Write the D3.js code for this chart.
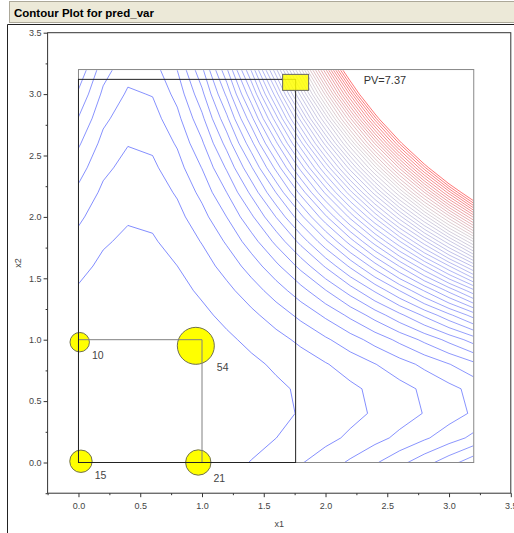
<!DOCTYPE html>
<html><head><meta charset="utf-8">
<script src="https://cdn.jsdelivr.net/npm/d3@7"></script>
<style>
html,body{margin:0;padding:0;background:#fff;}
svg{display:block;}
text{font-family:"Liberation Sans",Arial,sans-serif;}
</style></head><body>
<svg id="chart" width="514" height="533"></svg>
<script>
// ---------- data ----------
const chartTitle = "Contour Plot for pred_var";
const xLabel = "x1";
const yLabel = "x2";
const majorTicks = [0, 0.5, 1, 1.5, 2, 2.5, 3, 3.5];
const minorTicks = [-0.25, 0.25, 0.75, 1.25, 1.75, 2.25, 2.75, 3.25];
const axisDomain = [-0.25, 3.5];

// grid on which pred_var is evaluated
const gridX1 = [0, 0.2, 0.4, 0.6, 0.8, 1.0, 1.2, 1.4, 1.6, 1.8, 2.0, 2.2, 2.4, 2.6, 2.8, 3.0, 3.2];
const gridX2 = [0, 0.2, 0.4, 0.6, 0.8, 1.0, 1.2, 1.4, 1.6, 1.8, 2.0, 2.2, 2.4, 2.6, 2.8, 3.0, 3.2];
// pred_var values, one row per x2 (bottom to top), one column per x1
const pvGrid = [
  [1.000,0.660,0.484,0.472,0.625,0.943,1.425,2.072,2.883,3.858,4.998,6.302,7.771,9.405,11.203,13.165,15.292],
  [0.670,0.442,0.326,0.323,0.432,0.653,0.987,1.433,1.992,2.663,3.446,4.342,5.350,6.471,7.704,9.049,10.507],
  [0.489,0.322,0.241,0.248,0.343,0.524,0.793,1.149,1.592,2.123,2.740,3.445,4.237,5.117,6.083,7.137,8.278],
  [0.456,0.298,0.229,0.249,0.358,0.556,0.842,1.218,1.683,2.237,2.880,3.611,4.432,5.342,6.341,7.428,8.605],
  [0.571,0.371,0.289,0.324,0.477,0.748,1.136,1.642,2.265,3.006,3.865,4.841,5.935,7.147,8.476,9.922,11.487],
  [0.835,0.542,0.421,0.474,0.701,1.100,1.673,2.418,3.337,4.430,5.695,7.134,8.745,10.530,12.489,14.620,16.925],
  [1.247,0.809,0.627,0.700,1.029,1.613,2.453,3.549,4.901,6.508,8.371,10.490,12.864,15.494,18.380,21.521,24.918],
  [1.808,1.173,0.904,1.000,1.461,2.287,3.478,5.034,6.955,9.241,11.893,14.909,18.290,22.037,26.148,30.625,35.467],
  [2.517,1.635,1.254,1.375,1.997,3.121,4.746,6.872,9.500,12.629,16.260,20.391,25.024,30.159,35.795,41.932,48.571],
  [3.374,2.193,1.677,1.825,2.638,4.116,6.258,9.064,12.536,16.672,21.472,26.937,33.067,39.861,47.320,55.443,64.231],
  [4.380,2.849,2.172,2.350,3.383,5.271,8.013,11.610,16.062,21.369,27.530,34.546,42.417,51.142,60.722,71.157,82.447],
  [5.534,3.601,2.740,2.951,4.233,6.587,10.013,14.510,20.080,26.721,34.434,43.218,53.075,64.003,76.003,89.074,103.218],
  [6.837,4.451,3.380,3.626,5.187,8.063,12.256,17.764,24.588,32.728,42.183,52.954,65.040,78.443,93.161,109.195,126.545],
  [8.288,5.397,4.093,4.375,6.245,9.700,14.743,21.371,29.587,39.389,50.777,63.752,78.314,94.462,112.197,131.519,152.427],
  [9.887,6.441,4.878,5.201,7.407,11.498,17.473,25.333,35.076,46.705,60.217,75.614,92.896,112.061,133.111,156.046,180.864],
  [11.635,7.581,5.736,6.100,8.674,13.456,20.447,29.648,41.057,54.676,70.503,88.540,108.785,131.240,155.903,182.776,211.858],
  [13.531,8.819,6.667,7.075,10.045,15.575,23.665,34.316,47.528,63.301,81.634,102.528,125.982,151.997,180.573,211.710,245.407]
];
const levelMin = 2, levelMax = 96, levelStep = 2;

// design points (marker centres as drawn) and their responses
const ptX1 = [0.02, 0.97, 0.01, 0.95];
const ptX2 = [0.01, 0.00, 0.98, 0.95];
const ptResp = [15, 21, 10, 54];
const designBox = [0, 1];          // experimental region square
const regionMax = 3.2;             // contour region upper bound
const cursor = {x1: 1.758, x2: 3.12, pv: 7.37};

// ---------- drawing ----------
const svg = d3.select("#chart");

// title bar & frame
svg.append("rect").attr("x", 9.5).attr("y", 1.5).attr("width", 520).attr("height", 21)
  .attr("fill", "#ece9d8").attr("stroke", "#aca899");
svg.append("text").attr("x", 14).attr("y", 17).attr("font-weight", "bold")
  .attr("font-size", "11.5px").attr("fill", "#000").text(chartTitle);
svg.append("path").attr("d", "M7.5,540V24.5H520").attr("fill", "none").attr("stroke", "#222");

const x = d3.scaleLinear().domain(axisDomain).range([47.6, 510.8]);
const y = d3.scaleLinear().domain(axisDomain).range([493.2, 32.7]);

// contours
const nx = gridX1.length, ny = gridX2.length;
const step = gridX1[1] - gridX1[0];
const levels = d3.range(levelMin, levelMax + levelStep / 2, levelStep);
const contours = d3.contours().size([nx, ny]).thresholds(levels)(pvGrid.flat());
const proj = d3.geoTransform({
  point(px, py) { this.stream.point(x(gridX1[0] + (px - 0.5) * step), y(gridX2[0] + (py - 0.5) * step)); }
});
const path = d3.geoPath(proj);
const color = d3.scaleLinear().domain([levelMin, 40, 66, levelMax])
  .range(["#4455ff", "#8c94f0", "#c8bcc4", "#ff3434"]).interpolate(d3.interpolateRgb);

svg.append("clipPath").attr("id", "clipRegion").append("rect")
  .attr("x", x(0) + 0.6).attr("y", y(regionMax) + 0.6)
  .attr("width", x(regionMax) - x(0) - 1.2).attr("height", y(0) - y(regionMax) - 1.2);

svg.append("g").attr("clip-path", "url(#clipRegion)")
  .selectAll("path").data(contours).join("path")
  .attr("d", path).attr("fill", "none")
  .attr("stroke", d => color(d.value)).attr("stroke-width", 0.85).attr("stroke-opacity", 0.8);

// region border
svg.append("rect").attr("x", x(0)).attr("y", y(regionMax))
  .attr("width", x(regionMax) - x(0)).attr("height", y(0) - y(regionMax))
  .attr("fill", "none").attr("stroke", "#888");

// design points
const r = d3.scaleSqrt().domain([10, 54]).range([9.7, 18.5]);
const pts = ptX1.map((v, i) => ({x1: v, x2: ptX2[i], resp: ptResp[i]}));
svg.append("g").selectAll("circle").data(pts).join("circle")
  .attr("cx", d => x(d.x1)).attr("cy", d => y(d.x2)).attr("r", d => r(d.resp))
  .attr("fill", "#ffff00").attr("stroke", "#707050");

// design square
svg.append("path")
  .attr("d", `M${x(designBox[0])},${y(designBox[1])}H${x(designBox[1])}V${y(designBox[0])}`)
  .attr("fill", "none").attr("stroke", "#808080");

// cursor rectangle (origin to cursor)
svg.append("rect").attr("x", x(0)).attr("y", y(cursor.x2))
  .attr("width", x(cursor.x1) - x(0)).attr("height", y(0) - y(cursor.x2))
  .attr("fill", "none").attr("stroke", "#222");

// point labels
svg.append("g").selectAll("text").data(pts).join("text")
  .attr("x", d => x(d.x1) + r(d.resp) + 2.5)
  .attr("y", d => y(d.x2) + r(d.resp) + 7)
  .attr("font-size", "10.5px").attr("fill", "#444").text(d => d.resp);

// cursor marker and value
svg.append("rect").attr("x", x(cursor.x1) - 13).attr("y", y(cursor.x2) - 5)
  .attr("width", 26).attr("height", 16)
  .attr("fill", "#ffff00").attr("fill-opacity", 0.85).attr("stroke", "#666");
svg.append("text").attr("x", x(cursor.x1) + 68).attr("y", y(cursor.x2) + 5)
  .attr("font-size", "11px").attr("fill", "#333").text("PV=" + cursor.pv.toFixed(2));

// axes box
svg.append("rect").attr("x", x(axisDomain[0])).attr("y", y(axisDomain[1]))
  .attr("width", x(axisDomain[1]) - x(axisDomain[0])).attr("height", y(axisDomain[0]) - y(axisDomain[1]))
  .attr("fill", "none").attr("stroke", "#333");

const fmt = d3.format(".1f");
function styleAxis(g) {
  g.select(".domain").remove();
  g.selectAll("line").attr("stroke", "#333");
  g.selectAll("text").attr("font-size", "9px").attr("fill", "#444")
    .attr("font-family", "'Liberation Sans',Arial,sans-serif");
}
svg.append("g").attr("transform", `translate(0,${y(axisDomain[0])})`)
  .call(d3.axisBottom(x).tickValues(majorTicks).tickFormat(fmt).tickSize(4).tickPadding(5).tickSizeOuter(0))
  .call(styleAxis);
svg.append("g").attr("transform", `translate(0,${y(axisDomain[0])})`)
  .call(d3.axisBottom(x).tickValues(minorTicks).tickFormat("").tickSize(2).tickSizeOuter(0))
  .call(styleAxis);
svg.append("g").attr("transform", `translate(${x(axisDomain[0])},0)`)
  .call(d3.axisLeft(y).tickValues(majorTicks).tickFormat(fmt).tickSize(4).tickPadding(2).tickSizeOuter(0))
  .call(styleAxis);
svg.append("g").attr("transform", `translate(${x(axisDomain[0])},0)`)
  .call(d3.axisLeft(y).tickValues(minorTicks).tickFormat("").tickSize(2).tickSizeOuter(0))
  .call(styleAxis);

svg.append("text").attr("x", (x(axisDomain[0]) + x(axisDomain[1])) / 2).attr("y", 527)
  .attr("text-anchor", "middle").attr("font-size", "9px").attr("fill", "#444").text(xLabel);
svg.append("text").attr("transform", `translate(21,${(y(axisDomain[0]) + y(axisDomain[1])) / 2}) rotate(-90)`)
  .attr("text-anchor", "middle").attr("font-size", "9px").attr("fill", "#444").text(yLabel);
</script>
</body></html>
